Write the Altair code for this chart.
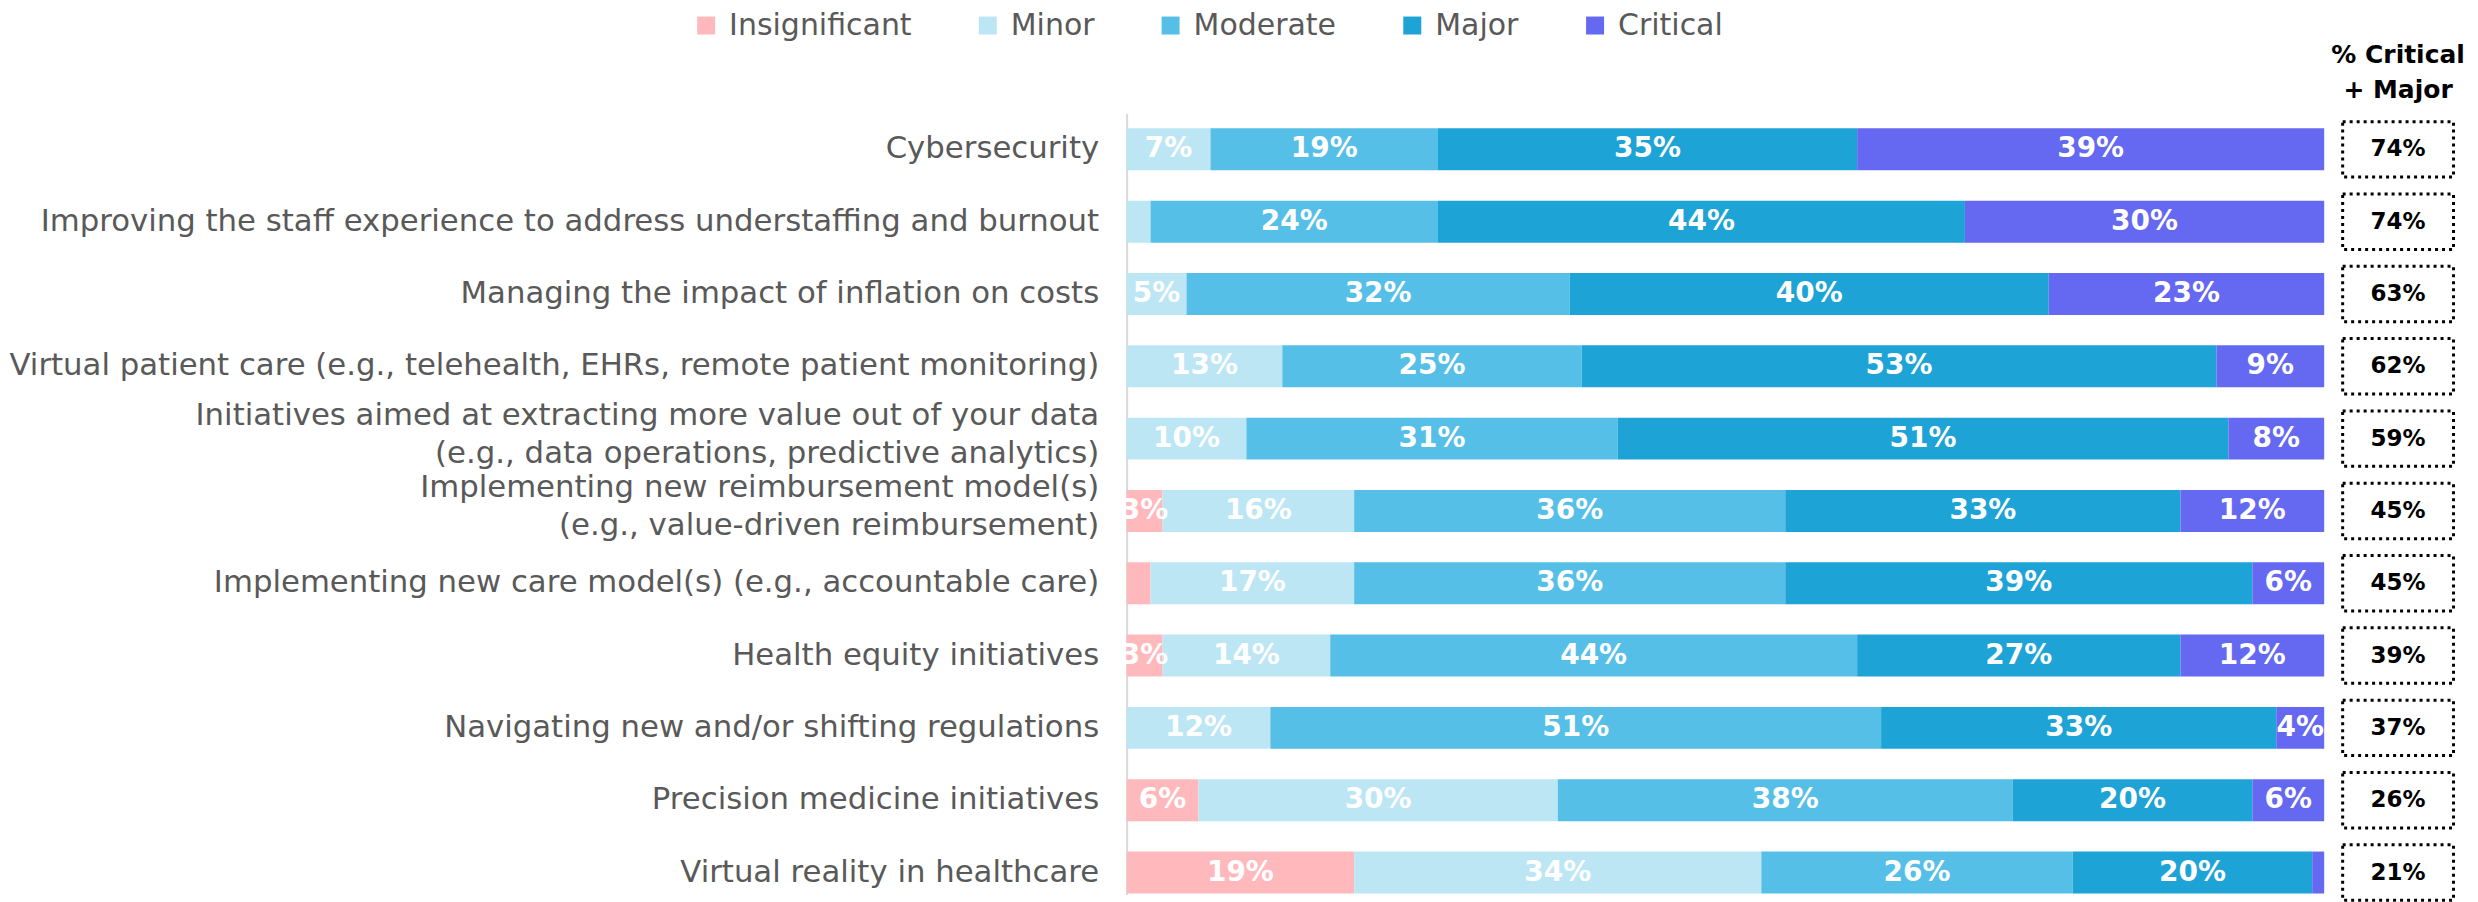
import altair as alt
import pandas as pd

categories = [
    "Cybersecurity",
    "Improving the staff experience to address understaffing and burnout",
    "Managing the impact of inflation on costs",
    "Virtual patient care (e.g., telehealth, EHRs, remote patient monitoring)",
    "Initiatives aimed at extracting more value out of your data\n(e.g., data operations, predictive analytics)",
    "Implementing new reimbursement model(s)\n(e.g., value-driven reimbursement)",
    "Implementing new care model(s) (e.g., accountable care)",
    "Health equity initiatives",
    "Navigating new and/or shifting regulations",
    "Precision medicine initiatives",
    "Virtual reality in healthcare",
]
levels = ["Insignificant", "Minor", "Moderate", "Major", "Critical"]
colors = ["#FFB9BC", "#BDE6F5", "#56BFE8", "#1EA3D6", "#6568F0"]

insignificant = [0, 0, 0, 0, 0, 3, 2, 3, 0, 6, 19]
minor = [7, 2, 5, 13, 10, 16, 17, 14, 12, 30, 34]
moderate = [19, 24, 32, 25, 31, 36, 36, 44, 51, 38, 26]
major = [35, 44, 40, 53, 51, 33, 39, 27, 33, 20, 20]
critical = [39, 30, 23, 9, 8, 12, 6, 12, 4, 6, 1]
critical_major = [74, 74, 63, 62, 59, 45, 45, 39, 37, 26, 21]

series = [insignificant, minor, moderate, major, critical]
rows = []
for ci, cat in enumerate(categories):
    for li, lvl in enumerate(levels):
        rows.append({"category": cat, "level": lvl, "order": li, "value": series[li][ci]})
df = pd.DataFrame(rows)
df_box = pd.DataFrame({"category": categories, "cm": critical_major})

FONT = "DejaVu Sans"
H = 782

yscale = alt.Scale(type="band", domain=categories, paddingInner=0.42, paddingOuter=0.11, align=0.94)

y_main = alt.Y(
    "category:N",
    scale=yscale,
    sort=categories,
    axis=alt.Axis(
        title=None,
        labelExpr="split(datum.label, '\\n')",
        labelFont=FONT,
        labelFontSize=30.8,
        labelColor="#595959",
        labelPadding=28,
        labelLimit=1300,
        labelLineHeight=38,
        labelOffset={"condition": {"test": "indexof(datum.label, '\\n') >= 0", "value": -23}, "value": 0},
        ticks=False,
        domainColor="#D9D9D9",
        domainWidth=2,
        grid=False,
        minExtent=1112,
        maxExtent=1112,
    ),
)

bars = alt.Chart(df).mark_bar().encode(
    x=alt.X("value:Q", stack="zero", scale=alt.Scale(domain=[0, 100], nice=False), axis=None),
    y=y_main,
    color=alt.Color(
        "level:N",
        scale=alt.Scale(domain=levels, range=colors),
        legend=alt.Legend(
            title=None,
            orient="none",
            legendX=-436,
            legendY=-103,
            direction="horizontal",
            symbolType="square",
            symbolSize=324,
            symbolStrokeWidth=0,
            labelFont=FONT,
            labelFontSize=30,
            labelColor="#595959",
            labelOffset=8,
            columnPadding=61,
            labelLimit=400,
        ),
    ),
    order=alt.Order("order:Q"),
)

labels = (
    alt.Chart(df)
    .transform_window(cum="sum(value)", frame=[None, 0], groupby=["category"], sort=[{"field": "order"}])
    .transform_calculate(mid="datum.cum - datum.value / 2", lab="datum.value + '%'")
    .transform_filter("datum.value >= 3")
    .mark_text(font=FONT, fontSize=28, fontWeight="bold", color="white")
    .encode(
        x=alt.X("mid:Q", scale=alt.Scale(domain=[0, 100], nice=False), axis=None),
        y=alt.Y("category:N", scale=yscale, sort=categories),
        text="lab:N",
    )
)

title_props = dict(font=FONT, fontSize=25, fontWeight="bold", lineHeight=35, offset=10, anchor="middle")

left = alt.layer(bars, labels).properties(
    width=1199,
    height=H,
    title=alt.Title([" ", " "], color="white", **title_props),
)

boxes = alt.Chart(df_box).mark_point(
    shape="M-1,-0.5H1V0.5H-1Z",
    size=12321,
    filled=False,
    color="black",
    strokeWidth=3,
    strokeDash=[3, 4],
    opacity=1,
).encode(y=alt.Y("category:N", scale=yscale, sort=categories, axis=None))

box_text = (
    alt.Chart(df_box)
    .transform_calculate(lab="datum.cm + '%'")
    .mark_text(font=FONT, fontSize=23, fontWeight="bold", color="black")
    .encode(y=alt.Y("category:N", scale=yscale, sort=categories, axis=None), text="lab:N")
)

right = alt.layer(boxes, box_text).properties(
    width=130,
    height=H,
    title=alt.Title(["% Critical", "+ Major"], color="black", **title_props),
)

chart = (
    alt.hconcat(left, right, spacing=9, bounds="flush")
    .properties(padding={"left": 0, "top": 2, "right": 5, "bottom": 0})
    .configure_view(stroke=None)
)

chart.save("out.html", embed_options={"renderer": "svg", "actions": False})
